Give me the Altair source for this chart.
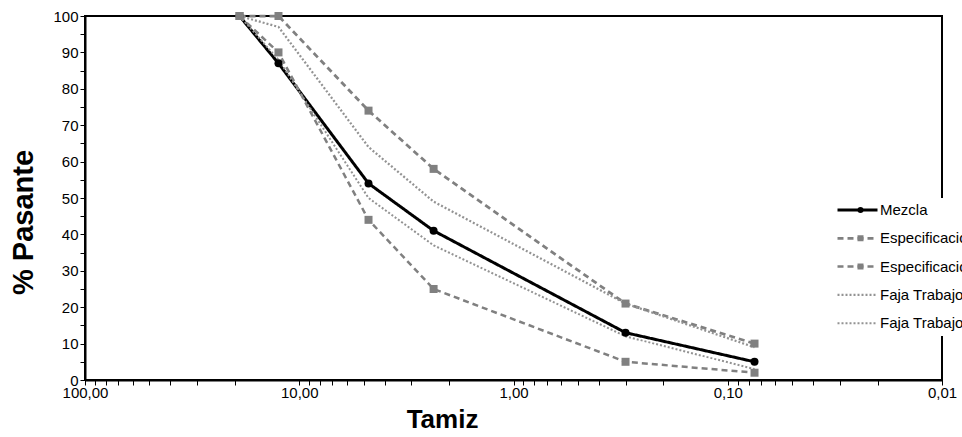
import altair as alt
import pandas as pd

tamiz = [19.0, 12.5, 4.75, 2.36, 0.3, 0.075]
mezcla = [100, 87, 54, 41, 13, 5]
esp_sup = [100, 100, 74, 58, 21, 10]
esp_inf = [100, 90, 44, 25, 5, 2]
faja_sup = [100, 97, 64, 49, 21, 9]
faja_inf = [100, 88, 50, 37, 12, 3]

series = ["Mezcla", "Especificación Superior", "Especificación Inferior",
          "Faja Trabajo Superior", "Faja Trabajo Inferior"]
values = [mezcla, esp_sup, esp_inf, faja_sup, faja_inf]
marcadas = series[:3]

rows = []
for s, vals in zip(series, values):
    for t, v in zip(tamiz, vals):
        rows.append({"serie": s, "grosor": s, "marca": s, "tamiz": t, "pasante": v})
df = pd.DataFrame(rows)

x_ticks = [k * d for d in [0.01, 0.1, 1, 10] for k in range(1, 10)] + [100]
y_ticks = list(range(0, 101, 5))

FONT = "Liberation Sans"

xenc = alt.X(
    "tamiz:Q",
    scale=alt.Scale(type="log", domain=[0.01, 100], reverse=True, nice=False),
    axis=alt.Axis(
        title="Tamiz", values=x_ticks,
        labelExpr="abs(log(datum.value)/log(10) - round(log(datum.value)/log(10))) < 0.001 ? replace(format(datum.value, '.2f'), '.', ',') : ''",
        grid=False, domainColor="black", domainWidth=2, tickColor="black",
        tickSize=5, labelFontSize=15, labelFont=FONT, labelColor="black",
        titleFont=FONT, titleFontSize=26, titleFontWeight="bold", titleColor="black",
        labelPadding=0, titlePadding=6, titleX=357, labelFlush=False, labelOverlap=False,
    ),
)
yenc = alt.Y(
    "pasante:Q",
    scale=alt.Scale(domain=[0, 100], nice=False),
    axis=alt.Axis(
        title="% Pasante", values=y_ticks,
        labelExpr="datum.value % 10 == 0 ? datum.label : ''",
        grid=False, domainColor="black", domainWidth=2, tickColor="black",
        tickSize=5, labelFontSize=15, labelFont=FONT, labelColor="black",
        titleFont=FONT, titleFontSize=29, titleFontWeight="bold", titleColor="black",
        labelPadding=2, titlePadding=14, titleY=206, labelOverlap=False,
    ),
)

color_scale = alt.Scale(domain=series, range=["black", "#808080", "#808080", "#939393", "#939393"])
dash_scale = alt.Scale(domain=series, range=[[1, 0], [6, 4], [6, 4], [2, 2], [2, 2]])
width_scale = alt.Scale(domain=series, range=[3, 2, 2, 1.6, 1.6])
shape_scale = alt.Scale(domain=marcadas, range=["circle", "square", "square"])
fill_scale = alt.Scale(domain=marcadas, range=["black", "#808080", "#808080"])

leg = alt.Legend(
    title=None, orient="none", legendX=747, legendY=182,
    fillColor="white", symbolType="stroke", symbolSize=1600,
    labelFont=FONT, labelFontSize=15, labelColor="black",
    labelLimit=400, rowPadding=12.3, padding=4, labelOffset=1,
    symbolStrokeWidth=1.5, clipHeight=16,
)

leg_marca = alt.Legend(
    title=None, orient="none", legendX=764, legendY=182,
    symbolSize=36, symbolStrokeWidth=0,
    labelFont=FONT, labelFontSize=15, labelExpr="''",
    rowPadding=12.3, padding=4, clipHeight=16,
)

lines = alt.Chart(df).mark_line().encode(
    x=xenc, y=yenc,
    color=alt.Color("serie:N", scale=color_scale, sort=series, legend=leg),
    strokeDash=alt.StrokeDash("serie:N", scale=dash_scale, sort=series, legend=leg),
    strokeWidth=alt.StrokeWidth("grosor:N", scale=width_scale, legend=None),
    order=alt.Order("tamiz:Q", sort="descending"),
)

pts = alt.Chart(df).transform_filter(
    alt.FieldOneOfPredicate(field="marca", oneOf=marcadas)
).mark_point(filled=True, size=64, opacity=1).encode(
    x=xenc, y=yenc,
    shape=alt.Shape("marca:N", scale=shape_scale, sort=marcadas, legend=leg_marca),
    fill=alt.Fill("marca:N", scale=fill_scale, sort=marcadas, legend=leg_marca),
)

chart = alt.layer(lines, pts).properties(
    width=857, height=364,
    padding={"left": 85, "top": 16, "right": 20, "bottom": 57},
    autosize=alt.AutoSizeParams(type="none"),
).configure_view(
    stroke="black", strokeWidth=2
)

chart.save("out.html", embed_options={"renderer": "svg", "actions": False})
